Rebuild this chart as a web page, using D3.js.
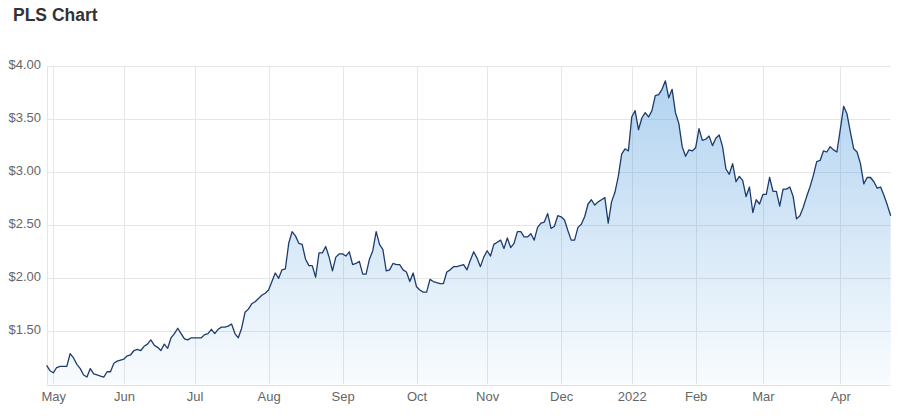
<!DOCTYPE html>
<html>
<head>
<meta charset="utf-8">
<script src="https://cdn.jsdelivr.net/npm/d3@7"></script>
<style>
  body { margin: 0; background: #fff; }
  svg { display: block; font-family: "Liberation Sans", Arial, sans-serif; }
</style>
</head>
<body>
<svg id="chart" width="910" height="420"></svg>
<script>
// daily closing price, one value per trading day (late Apr 2021 .. late Apr 2022)
var prices = [
  1.18, 1.13, 1.11, 1.16, 1.17, 1.17, 1.17, 1.29, 1.25, 1.19,
  1.15, 1.09, 1.07, 1.15, 1.10, 1.09, 1.08, 1.07, 1.12, 1.12,
  1.20, 1.22, 1.23, 1.24, 1.27, 1.28, 1.32, 1.33, 1.32, 1.36,
  1.38, 1.42, 1.37, 1.35, 1.32, 1.38, 1.34, 1.44, 1.48, 1.53,
  1.48, 1.43, 1.42, 1.44, 1.44, 1.44, 1.44, 1.47, 1.48, 1.52,
  1.48, 1.52, 1.54, 1.54, 1.55, 1.57, 1.48, 1.44, 1.53, 1.68,
  1.71, 1.76, 1.78, 1.81, 1.84, 1.86, 1.89, 1.97, 2.05, 2.00,
  2.08, 2.09, 2.33, 2.44, 2.40, 2.33, 2.32, 2.18, 2.12, 2.12,
  2.01, 2.24, 2.24, 2.30, 2.20, 2.07, 2.20, 2.23, 2.23, 2.21,
  2.25, 2.13, 2.14, 2.16, 2.04, 2.04, 2.18, 2.26, 2.44, 2.32,
  2.27, 2.07, 2.08, 2.14, 2.13, 2.13, 2.08, 2.06, 1.97, 2.05,
  1.92, 1.89, 1.87, 1.87, 1.99, 1.97, 1.96, 1.95, 1.95, 2.06,
  2.08, 2.11, 2.11, 2.12, 2.13, 2.08, 2.17, 2.25, 2.19, 2.11,
  2.20, 2.26, 2.21, 2.32, 2.34, 2.36, 2.28, 2.38, 2.29, 2.33,
  2.44, 2.44, 2.39, 2.39, 2.42, 2.36, 2.48, 2.52, 2.53, 2.61,
  2.47, 2.49, 2.59, 2.58, 2.55, 2.45, 2.36, 2.36, 2.48, 2.51,
  2.58, 2.70, 2.74, 2.69, 2.72, 2.74, 2.76, 2.52, 2.72, 2.81,
  2.96, 3.17, 3.22, 3.20, 3.52, 3.58, 3.40, 3.51, 3.56, 3.52,
  3.58, 3.72, 3.73, 3.78, 3.86, 3.70, 3.78, 3.56, 3.46, 3.24,
  3.15, 3.21, 3.20, 3.23, 3.41, 3.30, 3.31, 3.34, 3.25, 3.32,
  3.35, 3.24, 3.03, 2.98, 3.08, 2.91, 2.96, 2.92, 2.77, 2.86,
  2.62, 2.74, 2.70, 2.79, 2.79, 2.95, 2.82, 2.82, 2.68, 2.84,
  2.84, 2.86, 2.77, 2.56, 2.59, 2.67, 2.77, 2.86, 2.97, 3.10,
  3.11, 3.20, 3.19, 3.24, 3.21, 3.19, 3.40, 3.62, 3.55, 3.38,
  3.22, 3.19, 3.08, 2.89, 2.95, 2.95, 2.91, 2.85, 2.86, 2.78,
  2.69, 2.59
];

// first trading day of each month, as index into prices
var monthIdx = [2, 23, 44, 66, 88, 110, 131, 153, 174, 193, 213, 236];
var monthLabels = ["May", "Jun", "Jul", "Aug", "Sep", "Oct", "Nov", "Dec", "2022", "Feb", "Mar", "Apr"];

var priceTicks = [1.5, 2.0, 2.5, 3.0, 3.5, 4.0];

var svg = d3.select("#chart");
var plotL = 46.6, plotR = 890.7, plotT = 66, plotB = 384.5;

var x = d3.scaleLinear().domain([0, prices.length - 1]).range([plotL, plotR]);
var y = d3.scaleLinear().domain([1, 4]).range([plotB, plotT]);

svg.append("text")
  .attr("x", 13)
  .attr("y", 21)
  .attr("font-size", 17.5)
  .attr("font-weight", "bold")
  .attr("fill", "#333")
  .text("PLS Chart");

var defs = svg.append("defs");
var grad = defs.append("linearGradient")
  .attr("id", "fillGrad")
  .attr("x1", 0).attr("y1", 0).attr("x2", 0).attr("y2", 1);
grad.append("stop").attr("offset", "0%").attr("stop-color", "rgb(70,150,220)").attr("stop-opacity", 0.42);
grad.append("stop").attr("offset", "100%").attr("stop-color", "rgb(70,150,220)").attr("stop-opacity", 0.03);

// horizontal grid
svg.append("g")
  .selectAll("line")
  .data(priceTicks)
  .join("line")
  .attr("x1", plotL).attr("x2", plotR)
  .attr("y1", d => Math.round(y(d)) + 0.5)
  .attr("y2", d => Math.round(y(d)) + 0.5)
  .attr("stroke", "#e6e6e6");

// vertical grid
svg.append("g")
  .selectAll("line")
  .data([0].concat(monthIdx))
  .join("line")
  .attr("x1", d => Math.round(x(d)) + 0.5)
  .attr("x2", d => Math.round(x(d)) + 0.5)
  .attr("y1", plotT).attr("y2", plotB)
  .attr("stroke", "#e6e6e6");

// bottom axis line
svg.append("line")
  .attr("x1", plotL).attr("x2", plotR)
  .attr("y1", Math.round(plotB) + 0.5).attr("y2", Math.round(plotB) + 0.5)
  .attr("stroke", "#e0e0e0");

var area = d3.area()
  .x((d, i) => x(i))
  .y0(plotB)
  .y1(d => y(d));

var line = d3.line()
  .x((d, i) => x(i))
  .y(d => y(d));

svg.append("path")
  .datum(prices)
  .attr("d", area)
  .attr("fill", "url(#fillGrad)");

svg.append("path")
  .datum(prices)
  .attr("d", line)
  .attr("fill", "none")
  .attr("stroke", "#1d3b6d")
  .attr("stroke-width", 1.3)
  .attr("stroke-linejoin", "round");

// y labels
svg.append("g")
  .selectAll("text")
  .data(priceTicks)
  .join("text")
  .attr("x", 41)
  .attr("y", d => y(d) + 2.5)
  .attr("text-anchor", "end")
  .attr("font-size", 13)
  .attr("fill", "#666")
  .text(d => "$" + d.toFixed(2));

// x axis labels
var xAxis = d3.axisBottom(x)
  .tickValues(monthIdx)
  .tickFormat((d, i) => monthLabels[i])
  .tickSize(0)
  .tickPadding(0);

var gx = svg.append("g")
  .attr("transform", "translate(0," + 401 + ")")
  .call(xAxis);
gx.select(".domain").remove();
gx.selectAll("text")
  .attr("dy", 0)
  .attr("y", 0)
  .attr("font-size", 13)
  .attr("font-family", "\"Liberation Sans\", Arial, sans-serif")
  .attr("fill", "#666");
</script>
</body>
</html>
